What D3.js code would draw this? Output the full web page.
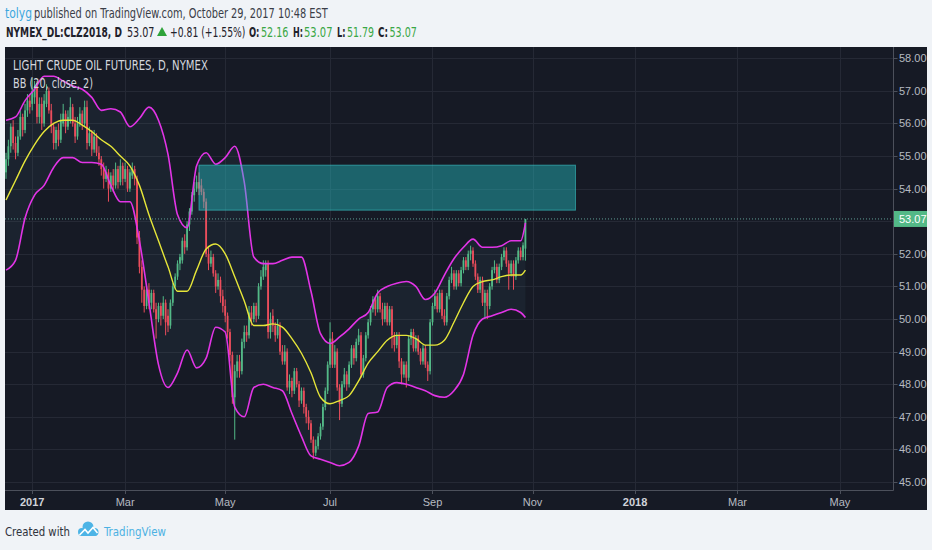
<!DOCTYPE html>
<html><head><meta charset="utf-8">
<script src="https://cdn.jsdelivr.net/npm/d3@7"></script>
<style>body{margin:0;background:#f0f3f7;} svg{display:block}</style>
</head><body>
<script>
// ---------- DATA ----------
const firstDate = "2016-12-15";
const lastDate = "2017-10-27";
const holidays = ["2016-12-26","2017-01-02","2017-01-16","2017-02-20","2017-04-14","2017-05-29","2017-07-04","2017-09-04"];

const opens = [54.5,54.9,55.3,55.9,55.4,55.1,55.6,56.2,55.8,56.4,
56.7,56.6,56.8,57.1,56.2,56.6,56.0,56.6,57.0,56.4,
55.9,55.4,55.8,55.5,56.0,56.3,55.9,56.1,56.5,56.0,
55.6,56.0,56.3,56.0,56.5,55.4,55.7,55.2,55.6,55.1,
54.9,54.6,54.3,54.5,54.0,54.4,54.1,54.6,54.2,54.7,
54.3,54.6,54.0,54.4,54.6,54.3,52.5,51.6,50.9,50.4,
50.9,50.5,50.8,50.3,50.0,50.4,50.1,50.5,50.1,49.8,
50.5,51.0,51.3,51.7,51.8,52.4,52.2,52.9,53.3,53.8,
54.0,54.2,54.1,53.9,53.6,52.0,51.7,51.9,51.4,51.0,
51.2,50.7,50.4,50.1,49.6,48.9,47.6,48.4,48.7,48.4,
49.3,49.6,49.5,50.2,50.0,50.4,50.1,51.0,51.3,51.5,
51.7,49.6,50.1,49.8,49.5,49.8,49.0,48.7,49.0,47.9,
48.1,47.8,48.4,48.0,47.5,47.8,47.3,47.0,46.8,46.3,
45.9,46.1,46.4,46.7,47.3,47.8,48.6,49.4,48.6,49.0,
47.9,47.4,48.0,48.3,48.0,48.6,49.1,48.8,49.3,49.5,
48.3,48.8,49.5,49.9,50.3,50.6,50.3,50.7,50.3,50.0,
50.4,49.9,50.3,49.5,49.2,49.5,48.7,48.3,48.6,48.2,
49.4,49.6,49.1,49.4,49.0,48.7,49.1,48.6,48.4,49.9,
50.4,50.7,50.3,50.8,50.1,49.9,50.7,51.2,51.4,51.0,
51.4,51.1,51.5,51.8,51.6,52.0,52.1,51.7,51.3,50.9,
51.2,50.5,50.8,50.4,51.0,51.5,51.6,51.2,51.6,51.9,
52.1,51.7,51.4,51.7,51.3,51.8,52.1,51.9,52.16];

const highs = [55.1,55.5,56.0,56.1,55.6,55.8,56.4,56.3,56.6,56.9,
56.9,57.4,57.3,57.3,56.8,56.8,56.9,57.2,57.1,56.6,
56.0,55.9,56.0,56.3,56.6,56.4,56.4,56.8,56.6,56.2,
56.2,56.5,56.4,56.7,56.7,55.9,55.8,55.8,55.7,55.3,
55.0,54.8,54.7,54.6,54.5,54.6,54.8,54.7,54.9,54.8,
54.8,54.7,54.6,54.8,54.7,54.4,52.7,51.8,51.0,51.0,
51.1,50.9,50.9,50.5,50.5,50.5,50.7,50.6,50.3,50.6,
51.1,51.4,51.8,52.0,52.5,52.6,53.0,53.4,53.9,54.2,
54.4,54.5,54.3,54.0,53.7,52.2,52.1,52.0,51.5,51.4,
51.3,50.9,50.6,50.2,49.7,49.0,48.6,48.9,48.9,49.4,
49.8,49.8,50.4,50.4,50.5,50.5,51.1,51.5,51.8,51.8,
51.8,50.2,50.3,49.9,50.0,49.9,49.2,49.2,49.1,48.3,
48.2,48.5,48.5,48.1,47.9,47.9,47.4,47.2,46.9,46.4,
46.3,46.5,46.8,47.4,47.9,48.7,49.9,49.6,49.2,49.1,
48.0,48.1,48.5,48.4,48.7,49.2,49.2,49.4,49.7,49.6,
48.9,49.6,50.0,50.4,50.7,50.7,50.9,50.8,50.5,50.5,
50.5,50.4,50.4,49.6,49.6,49.6,48.8,48.7,48.7,49.5,
49.7,49.7,49.5,49.5,49.1,49.2,49.2,48.7,50.0,50.5,
50.9,50.8,50.9,50.9,50.3,50.8,51.3,51.6,51.5,51.5,
51.5,51.6,51.9,51.9,52.1,52.25,52.2,51.8,51.4,51.3,
51.3,50.9,50.9,51.1,51.6,51.8,51.7,51.7,52.0,52.2,
52.2,51.8,51.8,51.8,51.9,52.2,52.2,52.35,53.07];

const lows = [54.3,54.7,55.1,55.2,54.9,55.0,55.5,55.6,55.7,56.2,
56.3,56.4,56.6,56.0,56.0,55.8,55.9,56.5,56.3,55.7,
55.2,55.2,55.3,55.4,55.9,55.7,55.8,56.0,55.9,55.4,
55.5,55.9,55.8,55.9,55.2,55.3,55.0,55.1,55.0,54.7,
54.4,54.0,54.2,53.6,53.9,53.9,54.0,54.0,54.1,54.1,
54.2,53.9,53.9,54.3,54.1,52.3,51.4,50.5,50.2,50.3,
50.3,50.3,50.2,49.4,49.9,49.8,50.0,49.5,49.6,49.7,
50.4,50.9,51.2,51.5,51.7,52.0,52.1,52.7,53.2,53.6,
53.9,53.8,53.8,53.4,51.9,51.5,51.6,51.3,50.8,50.9,
50.5,50.2,49.9,49.4,48.7,47.4,46.3,48.2,48.2,48.3,
49.1,49.3,49.4,49.8,49.9,49.9,50.0,50.9,51.2,51.3,
49.4,49.4,49.6,49.3,49.4,48.9,48.6,48.6,47.8,47.7,
47.6,47.7,47.9,47.3,47.4,47.1,46.8,46.6,46.2,45.7,
45.8,46.0,46.3,46.6,47.2,47.7,48.5,48.5,48.5,47.8,
46.9,47.3,47.9,47.8,47.9,48.5,48.6,48.7,49.2,48.2,
48.2,48.7,49.4,49.8,50.2,50.1,50.2,50.2,49.8,49.9,
49.8,49.8,49.1,49.0,49.1,48.5,48.0,48.2,47.9,48.1,
49.2,49.0,49.0,48.9,48.6,48.6,48.5,48.1,48.3,49.8,
50.3,50.2,50.2,50.0,49.8,49.8,50.6,51.1,50.9,50.9,
51.0,51.0,51.4,51.5,51.5,51.8,51.6,51.2,50.8,50.8,
50.4,50.0,50.0,50.3,50.9,51.4,51.1,51.1,51.5,51.8,
51.6,50.9,51.3,50.9,51.2,51.7,51.8,51.8,51.79];

const closes = [54.9,55.3,55.9,55.4,55.1,55.6,56.2,55.8,56.4,56.7,
56.5,57.0,57.1,56.2,56.6,56.0,56.7,57.0,56.4,55.9,
55.4,55.8,55.5,56.1,56.3,55.9,56.2,56.5,56.0,55.6,
56.0,56.3,56.0,56.5,55.4,55.7,55.2,55.6,55.1,54.9,
54.6,54.3,54.5,54.0,54.4,54.1,54.6,54.2,54.7,54.3,
54.6,54.0,54.5,54.6,54.3,52.5,51.6,50.9,50.4,50.9,
50.5,50.8,50.3,50.0,50.4,50.1,50.5,49.9,49.8,50.5,
51.0,51.3,51.7,51.9,52.4,52.2,52.9,53.3,53.8,54.0,
54.2,54.0,53.9,53.6,52.0,51.7,51.9,51.4,51.0,51.2,
50.7,50.4,50.1,49.6,48.9,47.6,48.4,48.7,48.4,49.3,
49.6,49.5,50.2,50.0,50.4,50.1,51.0,51.3,51.6,51.7,
49.6,50.0,49.8,49.5,49.8,49.0,48.7,49.0,47.9,48.1,
47.8,48.4,48.0,47.5,47.8,47.3,47.0,46.8,46.3,45.9,
46.1,46.4,46.7,47.3,47.8,48.6,49.4,48.6,49.0,47.9,
47.4,48.0,48.3,48.0,48.6,49.1,48.8,49.3,49.5,48.3,
48.8,49.5,49.9,50.3,50.6,50.3,50.7,50.3,50.0,50.4,
49.9,50.3,49.5,49.2,49.5,48.7,48.3,48.6,48.2,49.4,
49.6,49.1,49.4,49.0,48.7,49.1,48.6,48.4,49.9,50.4,
50.7,50.3,50.8,50.1,49.9,50.7,51.2,51.4,51.0,51.4,
51.1,51.5,51.8,51.6,52.0,52.1,51.7,51.3,50.9,51.2,
50.5,50.8,50.4,51.0,51.5,51.6,51.2,51.6,51.9,52.1,
51.7,51.4,51.7,51.3,51.8,52.1,51.9,52.26,53.07];

// Bollinger Bands (20, close, 2) read at these bar positions
const bbBars = [0,4,8,12,16,20,24,28,32,36,40,44,48,52,56,60,64,68,72,76,80,84,88,92,96,100,104,108,112,116,120,124,128,132,136,140,144,148,152,156,160,164,168,172,176,180,184,188,192,196,200,204,208,212,216,218];
const bbUpper = [56.1,56.2,56.7,57.05,57.45,57.45,57.3,57.15,57.05,56.8,
56.4,56.45,56.35,55.9,56.15,56.5,56.1,55.05,53.2,52.8,
54.7,55.1,54.75,54.95,55.3,54.2,51.9,51.7,51.7,51.8,
51.9,51.9,50.85,49.55,49.25,49.45,49.7,50.0,50.2,50.8,
51.0,51.1,51.15,51.0,50.6,50.8,51.35,51.85,52.2,52.45,
52.2,52.2,52.25,52.4,52.4,52.95];
const bbMiddle = [53.65,54.25,54.85,55.35,55.75,56.0,56.1,56.1,55.95,55.75,
55.5,55.3,55.0,54.7,54.1,53.2,52.4,51.6,50.85,50.85,
51.5,52.15,52.3,52.0,51.3,50.55,49.8,49.8,49.85,49.75,
49.4,48.95,48.35,47.6,47.4,47.5,47.65,48.1,48.65,49.0,
49.35,49.5,49.5,49.4,49.2,49.2,49.35,49.9,50.5,51.0,
51.15,51.2,51.3,51.35,51.35,51.5];
const bbLower = [51.5,51.8,53.1,53.8,54.1,54.65,54.95,54.95,54.8,54.8,
54.75,54.1,53.6,53.6,52.4,50.5,48.6,47.9,48.35,49.05,
48.5,48.8,49.75,49.6,47.3,47.0,47.9,48.0,47.9,47.8,
47.1,46.4,45.8,45.7,45.6,45.5,45.6,46.1,47.1,47.15,
47.9,48.05,48.0,47.9,47.8,47.65,47.6,47.8,48.3,49.5,
50.0,50.1,50.2,50.3,50.2,50.05];

const priceTicks = [45,46,47,48,49,50,51,52,53,54,55,56,57,58];
const monthNames = ["Jan","Feb","Mar","Apr","May","Jun","Jul","Aug","Sep","Oct","Nov","Dec"];
const lastPrice = 53.07;
const zone = {from:"2017-04-13", to:"2017-11-27", top:54.72, bottom:53.34};

// ---------- LAYOUT ----------
const W = 932, H = 550;
const panel = {x:5, y:47, w:922, h:463};
const plot = {l:5, r:893.5, t:47, b:490};
const C = {bg:"#161a25", grid:"#252935", axis:"#4c505b", text:"#b7bac2",
  up:"#53b987", down:"#eb4d5c", band:"#e234e6", mid:"#e6e639"};

// trading days (real) then future weekdays
const fmt = d3.utcFormat("%Y-%m-%d");
const dates = [];
{
  let d = new Date(firstDate + "T00:00:00Z");
  const hol = new Set(holidays);
  while (dates.length < 380) {
    const wd = d.getUTCDay(), s = fmt(d);
    if (wd !== 0 && wd !== 6 && !(s <= lastDate && hol.has(s))) dates.push(new Date(d));
    d = new Date(d.getTime() + 86400000);
  }
}
const idxOf = s => dates.findIndex(d => fmt(d) >= s);

const x = d3.scaleLinear().domain([-0.42, 372.48]).range([plot.l, plot.r]);
const y = d3.scaleLinear().domain([44.755, 58.345]).range([plot.b, plot.t]);

const svg = d3.select("body").append("svg").attr("width", W).attr("height", H)
  .style("font-family", "'Liberation Sans', Arial, sans-serif");

// condensed text: measured, then squeezed horizontally to the width seen in the reference
const narrow = "'Liberation Sans Narrow','DejaVu Sans Condensed','Liberation Sans',sans-serif";
function txt(s, x0, yb, w, opt = {}) {
  const g = svg.append("g").attr("transform", `translate(${x0},${yb})`);
  const t = g.append("text").attr("x", 0).attr("y", 0).text(s)
    .attr("font-family", narrow).attr("font-size", opt.size || 14)
    .attr("font-weight", opt.bold ? "bold" : "normal")
    .attr("fill", opt.fill || "#2b2e38");
  const nat = t.node().getComputedTextLength();
  if (nat > 0) t.attr("transform", `scale(${w / nat},1)`);
  return t;
}

// ---------- HEADER ----------
txt("tolyg", 5, 17.5, 27, {fill:"#3ba7de"});
txt("published on TradingView.com, October 29, 2017 10:48 EST", 34, 17.5, 294, {fill:"#3a3d47"});
const g2 = "#3aa745", dk = "#1f222b";
txt("NYMEX_DL:CLZ2018, D", 6, 36.5, 116, {bold:true, fill:dk});
txt("53.07", 127, 36.5, 27.5, {fill:dk});
svg.append("path").attr("d", "M157,36 L162,27 L167,36 Z").attr("fill", "#2ea33a");
txt("+0.81 (+1.55%)", 170, 36.5, 75.5, {fill:dk});
txt("O:", 249, 36.5, 10.5, {bold:true, fill:dk});
txt("52.16", 261, 36.5, 27.5, {fill:g2});
txt("H:", 293, 36.5, 10, {bold:true, fill:dk});
txt("53.07", 304, 36.5, 28.5, {fill:g2});
txt("L:", 337, 36.5, 8.5, {bold:true, fill:dk});
txt("51.79", 347, 36.5, 27, {fill:g2});
txt("C:", 378, 36.5, 10, {bold:true, fill:dk});
txt("53.07", 389.5, 36.5, 27.5, {fill:g2});

// ---------- PANEL ----------
svg.append("rect").attr("x", panel.x).attr("y", panel.y).attr("width", panel.w).attr("height", panel.h).attr("fill", C.bg);
svg.append("defs").append("clipPath").attr("id", "clip").append("rect")
  .attr("x", plot.l).attr("y", plot.t).attr("width", plot.r - plot.l).attr("height", plot.b - plot.t);

// month ticks (first bar of every second month)
const monthTicks = [];
dates.forEach((d, i) => {
  if (i === 0) return;
  const m = d.getUTCMonth();
  if (m !== dates[i - 1].getUTCMonth() && m % 2 === 0) {
    if (x(i) < plot.r - 10) monthTicks.push({i, label: m === 0 ? String(d.getUTCFullYear()) : monthNames[m], year: m === 0});
  }
});

const grid = svg.append("g").attr("clip-path", "url(#clip)");
grid.selectAll(".hg").data(priceTicks).join("line")
  .attr("x1", plot.l).attr("x2", plot.r).attr("y1", d => Math.round(y(d)) + 0.5).attr("y2", d => Math.round(y(d)) + 0.5)
  .attr("stroke", C.grid).attr("stroke-width", 1);
grid.selectAll(".vg").data(monthTicks).join("line")
  .attr("y1", plot.t).attr("y2", plot.b).attr("x1", d => Math.round(x(d.i)) + 0.5).attr("x2", d => Math.round(x(d.i)) + 0.5)
  .attr("stroke", C.grid).attr("stroke-width", 1);

const chart = svg.append("g").attr("clip-path", "url(#clip)");

// BB background fill
const bb = bbBars.map((b, k) => ({i: b, u: bbUpper[k], m: bbMiddle[k], l: bbLower[k]}));
chart.append("path").datum(bb)
  .attr("d", d3.area().x(d => x(d.i)).y0(d => y(d.l)).y1(d => y(d.u)).curve(d3.curveMonotoneX))
  .attr("fill", "rgba(90,150,170,0.08)");

// candles
const bars = closes.map((c, i) => ({i, o: opens[i], h: highs[i], l: lows[i], c}));
const bw = 1.8;
const cg = chart.append("g");
cg.selectAll(".wick").data(bars).join("line")
  .attr("x1", d => x(d.i)).attr("x2", d => x(d.i))
  .attr("y1", d => y(d.h)).attr("y2", d => y(d.l))
  .attr("stroke", d => d.c >= d.o ? C.up : C.down).attr("stroke-width", 1);
cg.selectAll(".body").data(bars).join("rect")
  .attr("x", d => x(d.i) - bw / 2).attr("width", bw)
  .attr("y", d => y(Math.max(d.o, d.c)))
  .attr("height", d => Math.max(0.8, Math.abs(y(d.o) - y(d.c))))
  .attr("fill", d => d.c >= d.o ? C.up : C.down);

// BB lines
const line = k => d3.line().x(d => x(d.i)).y(d => y(d[k])).curve(d3.curveMonotoneX);
chart.append("path").datum(bb).attr("d", line("u")).attr("fill", "none").attr("stroke", C.band).attr("stroke-width", 1.6);
chart.append("path").datum(bb).attr("d", line("l")).attr("fill", "none").attr("stroke", C.band).attr("stroke-width", 1.6);
chart.append("path").datum(bb).attr("d", line("m")).attr("fill", "none").attr("stroke", C.mid).attr("stroke-width", 1.4);

// zone rectangle
const zx0 = x(idxOf(zone.from)), zx1 = x(idxOf(zone.to));
chart.append("rect").attr("x", zx0).attr("y", y(zone.top)).attr("width", zx1 - zx0).attr("height", y(zone.bottom) - y(zone.top))
  .attr("fill", "rgba(38,200,205,0.42)").attr("stroke", "rgba(60,210,210,0.55)").attr("stroke-width", 1);

// last price line
chart.append("line").attr("x1", plot.l).attr("x2", plot.r).attr("y1", y(lastPrice)).attr("y2", y(lastPrice))
  .attr("stroke", "#5f9e94").attr("stroke-width", 1).attr("stroke-dasharray", "1,2");

// legend
txt("LIGHT CRUDE OIL FUTURES, D, NYMEX", 13, 70, 195, {size:13.5, fill:"#d3d6dd"});
txt("BB (20, close, 2)", 13, 88, 80, {size:13.5, fill:"#d3d6dd"});

// ---------- AXES ----------
svg.append("line").attr("x1", plot.r).attr("x2", plot.r).attr("y1", plot.t).attr("y2", plot.b + 0.5).attr("stroke", C.axis);
svg.append("line").attr("x1", plot.l).attr("x2", plot.r).attr("y1", plot.b + 0.5).attr("y2", plot.b + 0.5).attr("stroke", C.axis);

// price labels hidden where the last-price label sits
const shownTicks = priceTicks.filter(t => Math.abs(y(t) - y(lastPrice)) > 12);
const ya = svg.append("g");
ya.selectAll("line").data(shownTicks).join("line")
  .attr("x1", plot.r).attr("x2", plot.r + 4).attr("y1", d => Math.round(y(d)) + 0.5).attr("y2", d => Math.round(y(d)) + 0.5)
  .attr("stroke", C.axis);
ya.selectAll("text").data(shownTicks).join("text")
  .attr("x", plot.r + 5.5).attr("y", d => y(d) + 4).text(d => d.toFixed(2))
  .attr("font-size", 11).attr("fill", C.text);

// last price label
svg.append("rect").attr("x", plot.r + 0.5).attr("y", y(lastPrice) - 8).attr("width", panel.x + panel.w - plot.r - 0.5).attr("height", 16)
  .attr("fill", C.up);
svg.append("text").attr("x", plot.r + 5.5).attr("y", y(lastPrice) + 4).text(lastPrice.toFixed(2))
  .attr("font-size", 11).attr("fill", "#ffffff");

const xa = svg.append("g");
xa.selectAll("line").data(monthTicks).join("line")
  .attr("x1", d => Math.round(x(d.i)) + 0.5).attr("x2", d => Math.round(x(d.i)) + 0.5)
  .attr("y1", plot.b).attr("y2", plot.b + 4).attr("stroke", C.axis);
xa.selectAll("text").data(monthTicks).join("text")
  .attr("x", d => x(d.i)).attr("y", plot.b + 16).attr("text-anchor", "middle")
  .text(d => d.label).attr("font-size", 11).attr("font-weight", d => d.year ? "bold" : "normal")
  .attr("fill", d => d.year ? "#d0d3da" : C.text);

// ---------- FOOTER ----------
txt("Created with", 5, 536, 65, {size:13, fill:"#2f323c"});
const logo = svg.append("g").attr("fill", "#4db4e6");
logo.append("circle").attr("cx", 88).attr("cy", 527).attr("r", 5.5);
logo.append("circle").attr("cx", 82).attr("cy", 532).attr("r", 4);
logo.append("circle").attr("cx", 94.5).attr("cy", 532).attr("r", 4);
logo.append("rect").attr("x", 80).attr("y", 530).attr("width", 17).attr("height", 6).attr("rx", 2);
svg.append("path").attr("d", "M79.5,535 L85,529.5 L88,533 L93,527.5 L97.5,533")
  .attr("fill", "none").attr("stroke", "#ffffff").attr("stroke-width", 1.6);
txt("TradingView", 104, 536, 62, {size:13, fill:"#4cb1e3"});
</script>
</body></html>
